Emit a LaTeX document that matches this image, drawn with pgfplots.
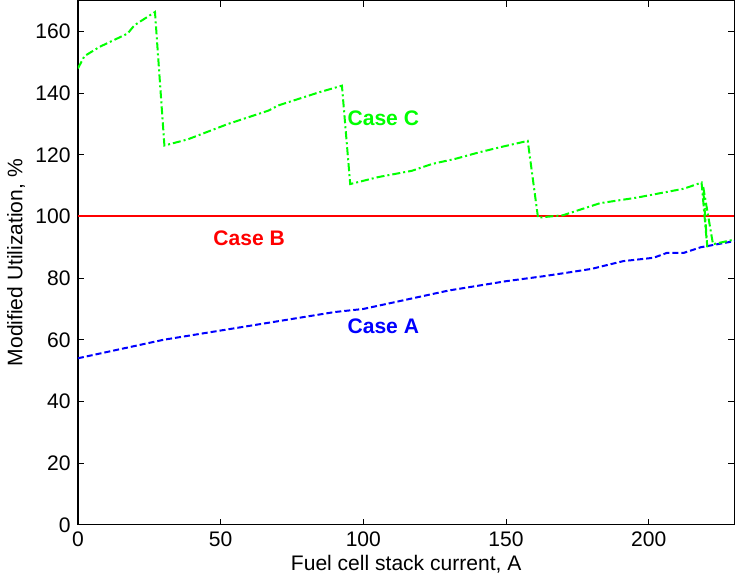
\documentclass[border=0pt]{standalone}
\usepackage{fontspec}
\setmainfont{Liberation Sans}
\usepackage{pgfplots}
\pgfplotsset{compat=1.18}
\begin{document}
\fontsize{10.5}{12.5}\selectfont
\begin{tikzpicture}
\begin{axis}[
  scale only axis,
  width=327.5pt, height=261.5pt,
  xmin=0, xmax=230, ymin=0, ymax=170,
  xtick={0,50,100,150,200},
  ytick={0,20,40,60,80,100,120,140,160},
  tick align=inside,
  tick pos=both,
  major tick length=3pt,
  axis line style={line width=0.6pt},
  tick style={line width=0.5pt,black},
  /pgf/number format/assume math mode=true,
  ticklabel style={font=\fontsize{10.5}{12.5}\selectfont},
  xlabel={Fuel cell stack current, A},
  ylabel={Modified Utilization, \%},
  label style={font=\fontsize{10.5}{12.5}\selectfont},
  xlabel style={yshift=3pt},
  ylabel style={yshift=-2pt},
  clip=true,
]
\addplot[red, line width=1pt] coordinates {(0,100) (230,100)};
\addplot[blue, line width=1pt, dash pattern=on 3pt off 1.5pt] coordinates {
(0,54) (10,56) (20,58) (30,60) (40,61.5) (50,63) (60,64.5) (70,66) (80,67.5) (90,69) (100,70) (110,72) (120,74) (130,76) (140,77.5) (150,79) (163,80.6) (171,81.7) (180,83) (191,85.5) (201.7,86.6) (206.4,88.2) (212.3,88.2) (218.2,90) (230,92)
};
\addplot[color={rgb,255:red,0;green,255;blue,0}, line width=1pt, dash pattern=on 4pt off 1.5pt on 1pt off 1.5pt] coordinates {
(0,148) (2.3,152) (7.6,155) (17.4,159.3) (19.8,162) (27,166.3) (30.3,123) (38.5,125) (52.6,130) (66.7,134.3) (70.2,136) (84.3,140.2) (92.5,142.4) (95.4,110.5) (105.4,112.8) (117,114.8) (124,117) (132.3,118.7) (140.6,120.8) (147.7,122.4) (157.6,124.5) (161.2,99.6) (170,100.4) (182.9,104.3) (195.8,106.1) (212.3,109) (217,110.5) (218.5,111) (220.5,90) (219,110) (222.5,91) (230,92.5)
};
\node[font=\fontsize{10.5}{12.5}\selectfont\bfseries, text={rgb,255:red,0;green,255;blue,0}] at (axis cs:107,132) {Case C};
\node[font=\fontsize{10.5}{12.5}\selectfont\bfseries, text=red] at (axis cs:60,93) {Case B};
\node[font=\fontsize{10.5}{12.5}\selectfont\bfseries, text=blue] at (axis cs:107,64.5) {Case A};
\end{axis}
\end{tikzpicture}
\end{document}
